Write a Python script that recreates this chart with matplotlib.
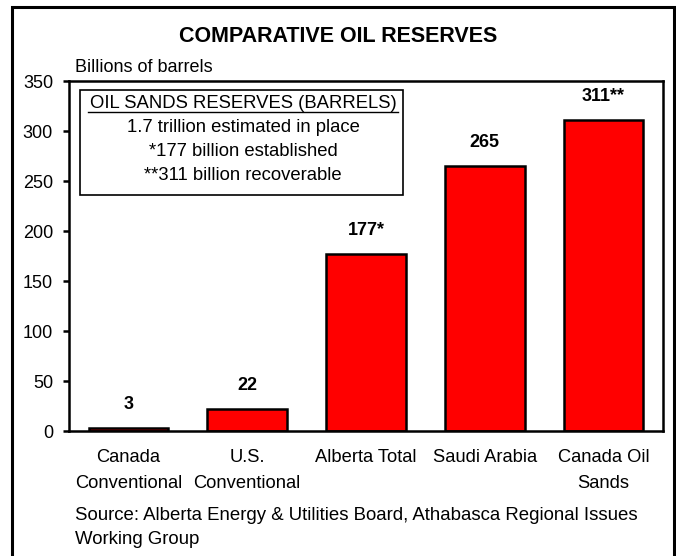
import matplotlib.pyplot as plt
from matplotlib.patches import Rectangle

plt.rcParams['font.family'] = ['Liberation Sans', 'DejaVu Sans']

categories = ['Canada\nConventional', 'U.S.\nConventional', 'Alberta Total',
              'Saudi Arabia', 'Canada Oil\nSands']
reserves = [3, 22, 177, 265, 311]
value_labels = ['3', '22', '177*', '265', '311**']
yticks = [0, 50, 100, 150, 200, 250, 300, 350]
note_title = 'OIL SANDS RESERVES (BARRELS)'
note_lines = ['1.7 trillion estimated in place', '*177 billion established',
              '**311 billion recoverable']
source_lines = ['Source: Alberta Energy & Utilities Board, Athabasca Regional Issues',
                'Working Group']

W, H = 676, 556
fig = plt.figure(figsize=(W / 100, H / 100), dpi=100)

# outer frame, open at the bottom edge
fig.patches.append(Rectangle((12 / W, -0.05), (674 - 12) / W, (H - 7) / H + 0.05,
                             transform=fig.transFigure, fill=False,
                             edgecolor='black', linewidth=2.2, zorder=0))

ax = fig.add_axes([69 / W, 1 - 431 / H, (663 - 69) / W, (431 - 81) / H])
x = range(len(categories))
ax.bar(x, reserves, width=0.67, color='#ff0000', edgecolor='black', linewidth=1.8)
ax.set_xlim(-0.5, 4.5)
ax.set_ylim(0, 350)
ax.set_yticks(yticks)
ax.set_xticks([])
ax.tick_params(axis='y', direction='out', length=4.5, width=1.8, labelsize=13, pad=7)
for s in ax.spines.values():
    s.set_linewidth(1.8)

for i, (v, lab) in enumerate(zip(reserves, value_labels)):
    ax.annotate(lab, (i, v), xytext=(0, 17), textcoords='offset points',
                ha='center', va='center', fontsize=13, fontweight='bold')

# category names, one line at a time so the spacing is fixed
for i, c in enumerate(categories):
    for k, part in enumerate(c.split('\n')):
        ax.text(i, -27 - 25 * k, part, ha='center', va='center', fontsize=13.2)

# reserves note box
cx = 0.965
ax.text(cx, 328, note_title, ha='center', va='center', fontsize=13.3)
ax.plot([-0.34, 2.27], [319, 319], color='black', lw=1, clip_on=False)
for yy, line in zip([303, 279, 255], note_lines):
    ax.text(cx, yy, line, ha='center', va='center', fontsize=13.3)
ax.add_patch(Rectangle((-0.405, 236), 2.72, 105, fill=False, edgecolor='black', linewidth=1.2))

fig.text(0.5, 1 - 36 / H, 'COMPARATIVE OIL RESERVES', ha='center', va='center',
         fontsize=15.5, fontweight='bold')
fig.text(75 / W, 1 - 67 / H, 'Billions of barrels', ha='left', va='center', fontsize=13)
for yy, line in zip([515, 540], source_lines):
    fig.text(75 / W, 1 - yy / H, line, ha='left', va='center', fontsize=13.4)

fig.savefig('out.png', dpi=100)
